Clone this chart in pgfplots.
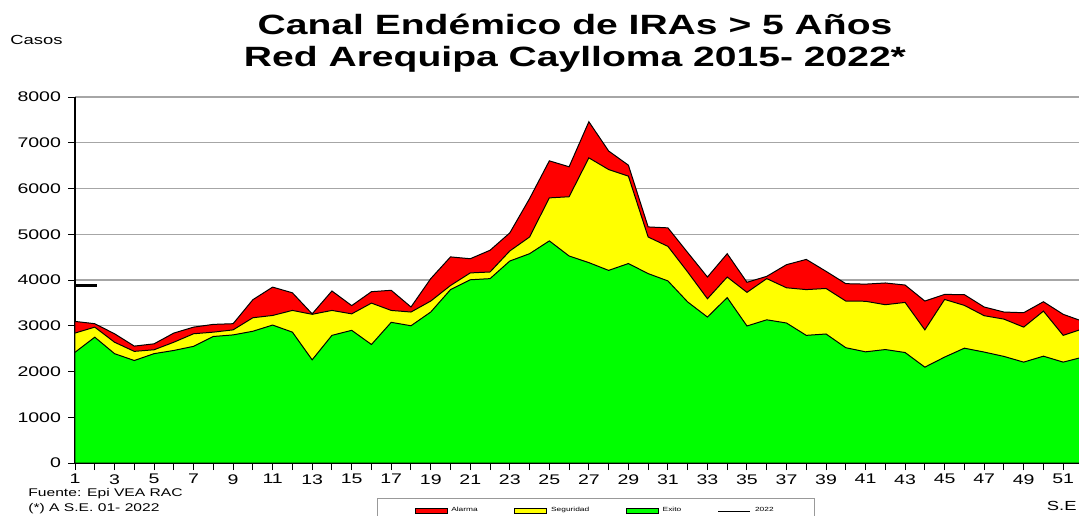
\documentclass[border=0pt]{standalone}
\usepackage{fontspec}
\setmainfont{Liberation Sans}[FakeStretch=1.4]
\usepackage{pgfplots}
\usepackage{pgfplotstable}
\pgfplotsset{compat=1.18}
\definecolor{alarma}{RGB}{255,0,0}
\definecolor{seguridad}{RGB}{255,255,0}
\definecolor{exito}{RGB}{0,255,0}

% semana, limites superiores de cada zona
\pgfplotstableread{
sem exito seg alarma
1 2420 2840 3095
2 2750 2970 3045
3 2390 2640 2825
4 2240 2440 2555
5 2390 2475 2605
6 2460 2640 2840
7 2550 2825 2970
8 2765 2860 3030
9 2800 2910 3045
10 2880 3175 3570
11 3015 3225 3845
12 2860 3335 3720
13 2255 3250 3260
14 2790 3335 3760
15 2900 3260 3440
16 2590 3495 3745
17 3075 3335 3775
18 3000 3300 3410
19 3300 3540 4030
20 3790 3880 4505
21 4005 4155 4465
22 4030 4175 4650
23 4415 4635 5030
24 4575 4940 5780
25 4855 5795 6605
26 4525 5820 6475
27 4380 6670 7460
28 4210 6415 6820
29 4360 6270 6510
30 4140 4940 5160
31 3980 4735 5140
32 3520 4175 4600
33 3190 3590 4065
34 3615 4065 4575
35 2995 3730 3950
36 3130 4030 4080
37 3060 3830 4335
38 2790 3790 4450
39 2820 3815 4190
40 2520 3540 3920
41 2430 3535 3910
42 2480 3460 3935
43 2415 3510 3890
44 2095 2910 3540
45 2315 3575 3685
46 2510 3445 3680
47 2425 3220 3410
48 2330 3145 3300
49 2205 2970 3285
50 2335 3320 3525
51 2205 2790 3250
52 2315 2935 3095
}\datos

\begin{document}
\begin{tikzpicture}
\useasboundingbox (-37.5bp,-26.5bp) rectangle (502bp,231.5bp);
\begin{axis}[
    at={(0,0)}, anchor=south west,
    scale only axis, width=502bp, height=183bp,
    xmin=1, xmax=51.8, ymin=0, ymax=8000,
    axis lines*=left, axis line style={-},
    x axis line style={line width=1.1pt},
    y axis line style={line width=0.6pt},
    xtick={1,3,...,51}, minor xtick={2,4,...,52},
    ytick={0,1000,...,8000},
    tick align=outside,
    major tick length=3.5bp, minor tick length=3.5bp,
    tick style={black, line width=0.5pt},
    ymajorgrids, major grid style={gray!70, line width=0.6pt},
    tick label style={font=\fontsize{7}{8}\selectfont},
    x tick label style={inner sep=1bp, yshift=-1bp},
    /pgf/number format/assume math mode=true,
    /pgf/number format/1000 sep={},
    scaled y ticks=false,
    legend columns=4,
    legend style={at={(0.3008,-0.0956)}, anchor=north west,
        draw=gray!80, line width=0.5pt,
        font=\fontsize{3}{3.5}\selectfont,
        inner xsep=18.5bp, inner ysep=2.5bp,
        /tikz/every even column/.append style={column sep=16.3bp}},
]
\addplot[fill=alarma, draw=black, line width=0.5pt,
    legend image code/.code={\draw[fill=alarma, draw=black, line width=0.4pt] (0bp,-1.2bp) rectangle (16bp,1.2bp);}]
    table[x=sem, y=alarma]{\datos} \closedcycle;
\addlegendentry{Alarma}
\addplot[fill=seguridad, draw=black, line width=0.5pt,
    legend image code/.code={\draw[fill=seguridad, draw=black, line width=0.4pt] (0bp,-1.2bp) rectangle (16bp,1.2bp);}]
    table[x=sem, y=seg]{\datos} \closedcycle;
\addlegendentry{Seguridad}
\addplot[fill=exito, draw=black, line width=0.5pt,
    legend image code/.code={\draw[fill=exito, draw=black, line width=0.4pt] (0bp,-1.2bp) rectangle (16bp,1.2bp);}]
    table[x=sem, y=exito]{\datos} \closedcycle;
\addlegendentry{Exito}
\addplot[black, line width=1.5pt,
    legend image code/.code={\draw[black, line width=0.6pt] (0bp,0bp) -- (16bp,0bp);}]
    coordinates {(1,3870) (2.1,3870)};
\addlegendentry{2022}
\end{axis}
\node[font=\bfseries\fontsize{14}{16}\selectfont, anchor=base] at (250bp,214bp) {Canal Endémico de IRAs > 5 Años};
\node[font=\bfseries\fontsize{14}{16}\selectfont, anchor=base] at (250bp,198bp) {Red Arequipa Caylloma 2015- 2022*};
\node[font=\fontsize{6.6}{8}\selectfont, anchor=base west, inner sep=0pt] at (-32.5bp,209bp) {Casos};
\node[font=\fontsize{5.6}{7}\selectfont, anchor=base west, inner sep=0pt] at (-23.5bp,-16.5bp) {Fuente: Epi VEA RAC};
\node[font=\fontsize{5.6}{7}\selectfont, anchor=base west, inner sep=0pt] at (-23.5bp,-24bp) {(*) A S.E. 01- 2022};
\node[font=\fontsize{6.6}{8}\selectfont, anchor=base east, inner sep=0pt] at (501bp,-23.5bp) {S.E};
\end{tikzpicture}
\end{document}
